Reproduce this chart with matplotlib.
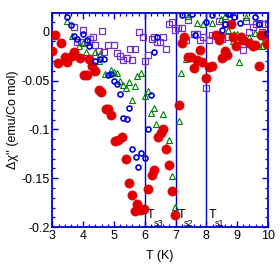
import matplotlib
matplotlib.use("Agg")
import matplotlib.pyplot as plt
from matplotlib.ticker import MultipleLocator

plt.rcParams['font.family'] = ['Liberation Sans', 'DejaVu Sans']

# red filled circles
red_T = [3.00, 3.09, 3.19, 3.28, 3.41, 3.49, 3.63, 3.70, 3.90, 4.04, 4.12, 4.20,
         4.29, 4.38, 4.50, 4.58, 4.74, 4.80, 4.90, 5.03, 5.14, 5.27, 5.39, 5.50,
         5.59, 5.68, 5.76, 5.86, 5.97, 6.11, 6.22, 6.30, 6.43, 6.54, 6.59, 6.68,
         6.79, 6.88, 6.98, 7.11, 7.20, 7.29, 7.42, 7.50, 7.60, 7.68, 7.78, 7.87,
         7.98, 8.10, 8.18, 8.32, 8.40, 8.45, 8.52, 8.60, 8.68, 8.80, 8.88, 8.97,
         9.12, 9.20, 9.40, 9.50, 9.57, 9.70, 9.78, 9.85, 9.97]
red_chi = [-0.020, -0.003, -0.032, -0.012, -0.026, -0.031, -0.025, -0.021, -0.027, -0.044, -0.044, -0.028,
           -0.035, -0.040, -0.060, -0.062, -0.079, -0.079, -0.085, -0.112, -0.111, -0.108, -0.130, -0.155,
           -0.167, -0.184, -0.176, -0.182, -0.181, -0.161, -0.147, -0.142, -0.108, -0.104, -0.100, -0.120,
           -0.136, -0.163, -0.188, -0.075, -0.012, -0.006, -0.026, -0.026, -0.037, -0.029, -0.019, -0.031,
           -0.047, -0.036, -0.035, -0.003, -0.009, -0.004, -0.027, -0.020, -0.024, 0.008, -0.005, -0.015,
           -0.005, -0.009, -0.012, -0.015, -0.014, -0.035, -0.003, -0.003, -0.013]

# blue open circles
blue_T = [3.47, 3.61, 3.70, 3.81, 4.00, 4.13, 4.20, 4.38, 4.54, 4.67, 4.81, 4.92,
          5.00, 5.10, 5.20, 5.30, 5.41, 5.49, 5.59, 5.70, 5.78, 5.89, 6.02, 6.11,
          6.20, 6.30, 6.40, 7.21, 7.53, 7.62, 7.98, 8.19, 8.51, 8.59, 8.70, 8.76,
          8.90, 9.08, 9.59, 9.70, 9.98]
blue_chi = [0.015, 0.007, -0.004, -0.008, -0.002, -0.009, -0.015, -0.030, -0.028, -0.028, -0.044, -0.043,
            -0.050, -0.054, -0.064, -0.088, -0.089, -0.078, -0.120, -0.128, -0.139, -0.124, -0.129, -0.100,
            -0.065, -0.021, -0.005, 0.017, 0.018, -0.003, 0.010, 0.017, 0.002, 0.008, 0.018, 0.018,
            0.015, 0.009, 0.015, 0.008, -0.001]

# green open triangles
green_T = [3.47, 3.63, 3.80, 3.88, 4.00, 4.10, 4.40, 4.51, 4.56, 4.70, 4.92, 5.00,
           5.09, 5.20, 5.28, 5.39, 5.48, 5.59, 5.68, 5.76, 5.89, 6.02, 6.10, 6.19,
           6.30, 6.38, 6.54, 6.59, 6.68, 6.79, 6.88, 6.97, 7.11, 7.19, 7.33, 7.40,
           7.69, 7.90, 8.17, 8.48, 8.62, 8.70, 8.86, 8.91, 9.00, 9.07, 9.28, 9.40,
           9.49, 9.59, 9.70, 9.80, 9.88]
green_chi = [0.011, -0.004, -0.023, -0.015, -0.012, -0.021, -0.021, -0.030, -0.023, -0.043, -0.039, -0.041,
             -0.042, -0.050, -0.055, -0.058, -0.052, -0.070, -0.056, -0.045, -0.042, -0.066, -0.061, -0.083,
             -0.078, -0.095, -0.100, -0.084, -0.118, -0.111, -0.148, -0.179, -0.091, -0.042, -0.028, 0.016,
             0.009, 0.008, 0.009, 0.013, 0.016, 0.002, -0.010, -0.002, -0.002, -0.031, 0.015, -0.006,
             -0.013, -0.001, -0.015, -0.015, -0.010]

# purple open squares
purple_T = [3.71, 3.81, 3.93, 4.00, 4.11, 4.22, 4.33, 4.40, 4.51, 4.60, 4.68, 4.81,
            5.00, 5.10, 5.21, 5.30, 5.41, 5.51, 5.59, 5.68, 5.81, 5.93, 6.01, 6.11,
            6.22, 6.30, 6.40, 6.51, 6.59, 6.70, 6.79, 6.88, 6.97, 7.08, 7.21, 7.33,
            7.40, 7.60, 7.70, 7.80, 7.89, 7.99, 8.08, 8.19, 8.40, 8.51, 8.59, 8.70,
            8.80, 9.07, 9.18, 9.29, 9.38, 9.50, 9.62, 9.70, 9.81, 9.88, 9.99]
purple_chi = [0.005, -0.011, -0.011, 0.002, -0.011, -0.008, -0.005, -0.014, -0.020, 0.001, -0.021, -0.014,
              -0.014, -0.022, -0.025, -0.029, -0.027, -0.018, -0.029, -0.018, 0.000, -0.006, -0.030, -0.024,
              -0.008, -0.006, -0.011, -0.011, -0.006, -0.018, 0.008, 0.010, 0.002, 0.004, 0.004, -0.009,
              0.012, -0.002, -0.002, -0.009, -0.005, -0.058, -0.009, -0.003, 0.011, -0.008, 0.008, -0.005,
              0.007, -0.008, -0.019, 0.011, 0.000, 0.005, 0.008, 0.009, 0.000, 0.008, 0.009]

# transition temperatures
Ts = [6.0, 7.0, 8.0]
Ts_names = ['s3', 's2', 's1']

axis_blue = '#0000cc'

fig = plt.figure(figsize=(2.8, 2.72), dpi=100)
ax = fig.add_axes([0.187, 0.165, 0.770, 0.787])

for t in Ts:
    ax.axvline(t, color=axis_blue, lw=1.0, zorder=1)

ax.plot(purple_T, purple_chi, 's', ms=4.5, mfc='none', mec='#7030cc', mew=0.9, zorder=2)
ax.plot(green_T, green_chi, '^', ms=4.0, mfc='none', mec='#008000', mew=0.8, zorder=3)
ax.plot(red_T, red_chi, 'o', ms=6.6, mfc='#e00000', mec='#e00000', mew=0.5, zorder=4)
ax.plot(blue_T, blue_chi, 'o', ms=3.6, mfc='none', mec='#0000dd', mew=1.2, zorder=5)

for t, name in zip(Ts, Ts_names):
    ax.text(t + 0.07, -0.1905, 'T', fontsize=9, ha='left', va='baseline')
    ax.text(t + 0.28, -0.1985, name, fontsize=6.5, ha='left', va='baseline')

ax.set_xlim(3, 10)
ax.set_ylim(-0.2, 0.019)
ax.xaxis.set_major_locator(MultipleLocator(1))
ax.xaxis.set_minor_locator(MultipleLocator(0.2))
ax.yaxis.set_major_locator(MultipleLocator(0.05))
ax.yaxis.set_minor_locator(MultipleLocator(0.01))
ax.set_yticks([0, -0.05, -0.1, -0.15, -0.2])
ax.set_yticklabels(['0', '-0.05', '-0.1', '-0.15', '-0.2'])

for s in ax.spines.values():
    s.set_color(axis_blue)
    s.set_linewidth(1.3)
ax.tick_params(which='both', direction='in', top=True, right=True, color=axis_blue,
               labelsize=9, pad=2)
ax.tick_params(which='major', length=4.5, width=1.0)
ax.tick_params(which='minor', length=2.5, width=0.9)

ax.set_xlabel('T (K)', fontsize=9, labelpad=6)
ax.set_ylabel("\u0394\u03c7'' (emu/Co mol)", fontsize=9, labelpad=2)

fig.savefig('out.png', dpi=100)
